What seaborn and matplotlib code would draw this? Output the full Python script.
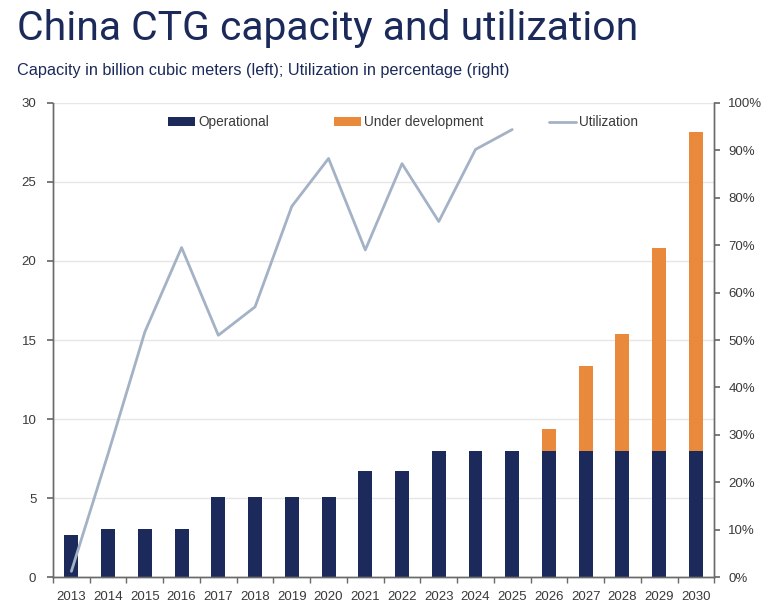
import matplotlib
matplotlib.use("Agg")
import matplotlib.pyplot as plt
from matplotlib.patches import Patch
from matplotlib.lines import Line2D
from matplotlib.ticker import PercentFormatter, MultipleLocator
import seaborn as sns
import numpy as np
import pandas as pd

years = [str(y) for y in range(2013, 2031)]
operational = [2.65, 3.05, 3.05, 3.05, 5.05, 5.05, 5.05, 5.05, 6.7, 6.7,
               8.0, 8.0, 8.0, 8.0, 8.0, 8.0, 8.0, 8.0]
under_dev = [0, 0, 0, 0, 0, 0, 0, 0, 0, 0,
             0, 0, 0, 1.35, 5.35, 7.35, 12.85, 20.15]
util_years = [str(y) for y in range(2013, 2026)]
utilization = [1.2, 26.0, 51.7, 69.5, 51.0, 57.0, 78.2, 88.3, 69.0, 87.2, 75.0, 90.2, 94.4]

NAVY = "#1b2a5a"
ORANGE = "#e8893c"
LINE = "#a4b2c6"
TXT = "#3a3a3a"
SPINE = "#6a6a6a"

sns.set_theme(style="white")
plt.rcParams["font.family"] = ["Liberation Sans", "DejaVu Sans"]

df = pd.DataFrame({"year": years, "op": operational, "dev": under_dev})
df["total"] = df["op"] + df["dev"]
udf = pd.DataFrame({"pos": np.arange(len(util_years)), "util": utilization})

fig = plt.figure(figsize=(7.76, 6.16), dpi=100)
ax = fig.add_axes([0.0683, 0.0633, 0.8522, 0.7695])

sns.barplot(data=df, x="year", y="total", color=ORANGE, width=0.38,
            saturation=1, ax=ax, order=years)
sns.barplot(data=df, x="year", y="op", color=NAVY, width=0.38,
            saturation=1, ax=ax, order=years)
for p in ax.patches:
    p.set_linewidth(0)

ax.set_ylim(0, 30)
ax.set_xlim(-0.5, len(years) - 0.5)
ax.yaxis.set_major_locator(MultipleLocator(5))
ax.set_xlabel("")
ax.set_ylabel("")
ax.grid(axis="y", color="#e6e6e6", linewidth=1)
ax.set_axisbelow(True)

ax2 = ax.twinx()
sns.lineplot(data=udf, x="pos", y="util", color=LINE, linewidth=2, ax=ax2)
ax2.set_ylim(0, 100)
ax2.set_xlim(-0.5, len(years) - 0.5)
ax2.yaxis.set_major_locator(MultipleLocator(10))
ax2.yaxis.set_major_formatter(PercentFormatter(decimals=0))
ax2.set_ylabel("")
ax2.set_xlabel("")
ax2.grid(False)

for a in (ax, ax2):
    a.spines["top"].set_visible(False)
    for s in ("left", "right", "bottom"):
        a.spines[s].set_color(SPINE)
        a.spines[s].set_linewidth(1)

ax.tick_params(axis="y", left=True, length=4, color=SPINE, labelsize=9.5,
               labelcolor=TXT, pad=8)
ax2.tick_params(axis="y", right=True, length=4, color=SPINE, labelsize=9.5,
                labelcolor=TXT, pad=6)
ax.tick_params(axis="x", bottom=False, labelsize=9.5, labelcolor=TXT, pad=4)
# category boundary ticks
ax.set_xticks(np.arange(len(years) + 1) - 0.5, minor=True)
ax.tick_params(axis="x", which="minor", bottom=True, length=4, color=SPINE)

handles = [Patch(facecolor=NAVY, edgecolor="none"),
           Patch(facecolor=ORANGE, edgecolor="none"),
           Line2D([0], [0], color=LINE, linewidth=2)]
labels = ["Operational", "Under development", "Utilization"]
ax2.legend(handles, labels, loc="upper center", bbox_to_anchor=(0.529, 1.0),
           ncol=3, frameon=False, fontsize=9.8, columnspacing=4.8,
           handlelength=2.0, handleheight=0.6, handletextpad=0.2, labelcolor=TXT)

fig.text(0.022, 0.953, "China CTG capacity and utilization", fontsize=29.4,
         color=NAVY, ha="left", va="center", family=["Roboto", "DejaVu Sans"])
fig.text(0.022, 0.885, "Capacity in billion cubic meters (left); Utilization in percentage (right)",
         fontsize=11.7, color=NAVY, ha="left", va="center",
         family=["Liberation Sans Narrow", "Liberation Sans", "DejaVu Sans"])

fig.savefig("out.png", dpi=100, facecolor="white")
